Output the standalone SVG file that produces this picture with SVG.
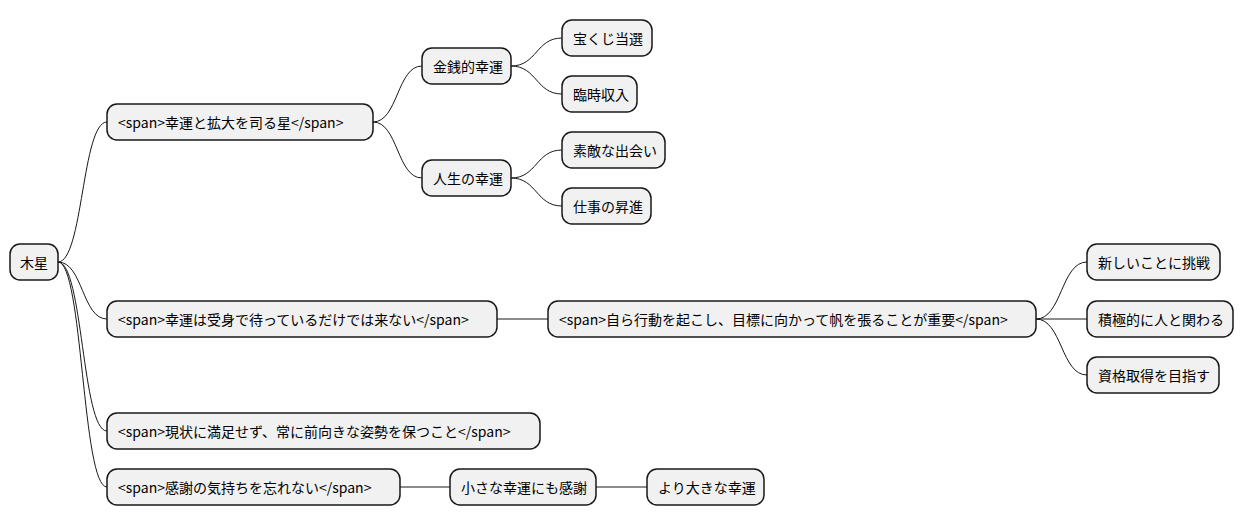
<svg xmlns="http://www.w3.org/2000/svg" width="1244" height="527" viewBox="0 0 1244 527">
<style>
.n rect{fill:#f1f1f1;stroke:#181818;stroke-width:1.5}
.n text{font-family:"Noto Sans CJK JP","Noto Sans",sans-serif;font-size:14px;fill:#000;dominant-baseline:central}
#c path{fill:none;stroke:#181818;stroke-width:1}
</style>
<rect width="1244" height="527" fill="#fff"/>
<g id="c">
<path d="M58,262 C83,262 82,122 107,122"/>
<path d="M58,262 C83,262 82,319 107,319"/>
<path d="M58,262 C83,262 82,431 107,431"/>
<path d="M58,262 C83,262 82,487 107,487"/>
<path d="M373,122 C398,122 397,66 422,66"/>
<path d="M373,122 C398,122 397,178 422,178"/>
<path d="M511,66 C537,66 536,38 562,38"/>
<path d="M511,66 C537,66 536,94 562,94"/>
<path d="M511,178 C537,178 536,150 562,150"/>
<path d="M511,178 C537,178 536,206 562,206"/>
<path d="M497,319 L548,319"/>
<path d="M1036,319 C1062,319 1061,262 1087,262"/>
<path d="M1036,319 L1087,319"/>
<path d="M1036,319 C1062,319 1061,375 1087,375"/>
<path d="M400,487 L450,487"/>
<path d="M596,487 L647,487"/>
</g>
<g id="n0" class="n"><rect x="10" y="244" width="48" height="36" rx="10"/><text x="20" y="262">木星</text></g>
<g id="n1" class="n"><rect x="107" y="104" width="266" height="36" rx="10"/><text x="118" y="122">&lt;span&gt;幸運と拡大を司る星&lt;/span&gt;</text></g>
<g id="n2" class="n"><rect x="422" y="48" width="89" height="36" rx="10"/><text x="433" y="66">金銭的幸運</text></g>
<g id="n3" class="n"><rect x="562" y="20" width="90" height="36" rx="10"/><text x="573" y="38">宝くじ当選</text></g>
<g id="n4" class="n"><rect x="562" y="76" width="75" height="36" rx="10"/><text x="573" y="94">臨時収入</text></g>
<g id="n5" class="n"><rect x="422" y="160" width="89" height="36" rx="10"/><text x="433" y="178">人生の幸運</text></g>
<g id="n6" class="n"><rect x="562" y="132" width="103" height="36" rx="10"/><text x="573" y="150">素敵な出会い</text></g>
<g id="n7" class="n"><rect x="562" y="188" width="89" height="36" rx="10"/><text x="573" y="206">仕事の昇進</text></g>
<g id="n8" class="n"><rect x="107" y="301" width="390" height="36" rx="10"/><text x="118" y="319">&lt;span&gt;幸運は受身で待っているだけでは来ない&lt;/span&gt;</text></g>
<g id="n9" class="n"><rect x="548" y="301" width="488" height="36" rx="10"/><text x="559" y="319">&lt;span&gt;自ら行動を起こし、目標に向かって帆を張ることが重要&lt;/span&gt;</text></g>
<g id="n10" class="n"><rect x="1087" y="244" width="133" height="36" rx="10"/><text x="1098" y="262">新しいことに挑戦</text></g>
<g id="n11" class="n"><rect x="1087" y="301" width="146" height="36" rx="10"/><text x="1098" y="319">積極的に人と関わる</text></g>
<g id="n12" class="n"><rect x="1087" y="357" width="132" height="36" rx="10"/><text x="1098" y="375">資格取得を目指す</text></g>
<g id="n13" class="n"><rect x="107" y="413" width="433" height="36" rx="10"/><text x="118" y="431">&lt;span&gt;現状に満足せず、常に前向きな姿勢を保つこと&lt;/span&gt;</text></g>
<g id="n14" class="n"><rect x="107" y="469" width="293" height="36" rx="10"/><text x="118" y="487">&lt;span&gt;感謝の気持ちを忘れない&lt;/span&gt;</text></g>
<g id="n15" class="n"><rect x="450" y="469" width="146" height="36" rx="10"/><text x="461" y="487">小さな幸運にも感謝</text></g>
<g id="n16" class="n"><rect x="647" y="469" width="117" height="36" rx="10"/><text x="658" y="487">より大きな幸運</text></g>
</svg>
